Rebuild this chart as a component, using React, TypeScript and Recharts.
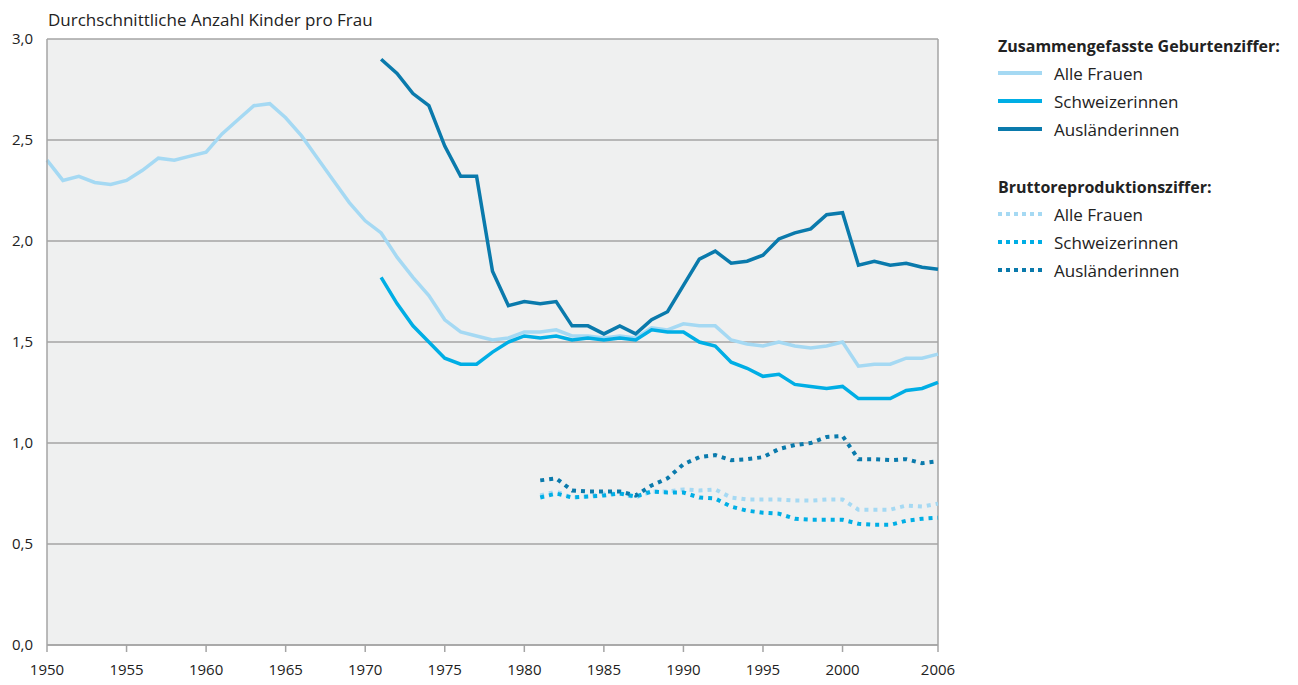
import { LineChart, Line, XAxis, YAxis, CartesianGrid, ReferenceLine } from 'recharts'

const years = Array.from({ length: 57 }, (_, i) => 1950 + i)
const xTicks = [1950, 1955, 1960, 1965, 1970, 1975, 1980, 1985, 1990, 1995, 2000, 2006]
const yTicks = [0, 0.5, 1, 1.5, 2, 2.5, 3]

// Zusammengefasste Geburtenziffer
const tfrAlle = [
    2.40, 2.30, 2.32, 2.29, 2.28, 2.30, 2.35, 2.41, 2.40, 2.42,
    2.44, 2.53, 2.60, 2.67, 2.68, 2.61, 2.52, 2.41, 2.30, 2.19,
    2.10, 2.04, 1.92, 1.82, 1.73, 1.61, 1.55, 1.53, 1.51, 1.52,
    1.55, 1.55, 1.56, 1.53, 1.53, 1.52, 1.53, 1.52, 1.57, 1.56,
    1.59, 1.58, 1.58, 1.51, 1.49, 1.48, 1.50, 1.48, 1.47, 1.48,
    1.50, 1.38, 1.39, 1.39, 1.42, 1.42, 1.44,
]
// from 1971
const tfrSchweiz = [
    1.82, 1.69, 1.58, 1.50, 1.42, 1.39, 1.39, 1.45, 1.50,
    1.53, 1.52, 1.53, 1.51, 1.52, 1.51, 1.52, 1.51, 1.56, 1.55,
    1.55, 1.50, 1.48, 1.40, 1.37, 1.33, 1.34, 1.29, 1.28, 1.27,
    1.28, 1.22, 1.22, 1.22, 1.26, 1.27, 1.30,
]
// from 1971
const tfrAusl = [
    2.90, 2.83, 2.73, 2.67, 2.47, 2.32, 2.32, 1.85, 1.68,
    1.70, 1.69, 1.70, 1.58, 1.58, 1.54, 1.58, 1.54, 1.61, 1.65,
    1.78, 1.91, 1.95, 1.89, 1.90, 1.93, 2.01, 2.04, 2.06, 2.13,
    2.14, 1.88, 1.90, 1.88, 1.89, 1.87, 1.86,
]
// Bruttoreproduktionsziffer, from 1981
const brzAlle = [
    0.74, 0.76, 0.73, 0.735, 0.75, 0.75, 0.73, 0.76, 0.76,
    0.77, 0.765, 0.77, 0.73, 0.72, 0.72, 0.72, 0.715, 0.715, 0.72,
    0.72, 0.67, 0.67, 0.67, 0.69, 0.685, 0.70,
]
const brzSchweiz = [
    0.73, 0.75, 0.73, 0.735, 0.74, 0.75, 0.735, 0.76, 0.755,
    0.755, 0.73, 0.725, 0.685, 0.665, 0.655, 0.65, 0.625, 0.62, 0.62,
    0.62, 0.60, 0.595, 0.595, 0.615, 0.625, 0.63,
]
const brzAusl = [
    0.815, 0.825, 0.765, 0.76, 0.76, 0.76, 0.74, 0.79, 0.825,
    0.895, 0.93, 0.94, 0.915, 0.92, 0.93, 0.97, 0.99, 1.00, 1.03,
    1.035, 0.92, 0.92, 0.915, 0.92, 0.90, 0.91,
]

const LIGHT = '#a5d9f3'
const MID = '#00aee5'
const DARK = '#0a7aac'
const FONT = '"Open Sans", sans-serif'

const pick = (arr: number[], start: number, y: number) =>
    y >= start && y - start < arr.length ? arr[y - start] : null

const data = years.map((y) => ({
    year: y,
    tfrAlle: pick(tfrAlle, 1950, y),
    tfrSchweiz: pick(tfrSchweiz, 1971, y),
    tfrAusl: pick(tfrAusl, 1971, y),
    brzAlle: pick(brzAlle, 1981, y),
    brzSchweiz: pick(brzSchweiz, 1981, y),
    brzAusl: pick(brzAusl, 1981, y),
}))

const fmt = (v: number) => v.toFixed(1).replace('.', ',')

function LegendItem({ color, label, dotted }: { color: string; label: string; dotted?: boolean }) {
    return (
        <div style={{ display: 'flex', alignItems: 'center', height: 28 }}>
            <svg width={46} height={8} style={{ marginRight: 10 }}>
                <line x1={0} y1={4} x2={44} y2={4} stroke={color} strokeWidth={4}
                    strokeDasharray={dotted ? '4 4' : undefined} />
            </svg>
            <span>{label}</span>
        </div>
    )
}

const titleStyle = { fontWeight: 700, fontSize: 16, height: 26, lineHeight: '26px' }

export default function App() {
    return (
        <div style={{ position: 'relative', width: 1290, height: 670, fontFamily: FONT }}>
            <div style={{ position: 'absolute', left: 40, top: 0, fontSize: 17, color: '#222' }}>
                Durchschnittliche Anzahl Kinder pro Frau
            </div>
            <LineChart width={950} height={670} data={data}
                margin={{ top: 31, right: 20, left: 0, bottom: 0 }}>
                <CartesianGrid vertical={false} fill="#eff0f0" stroke="#a4a4a4" strokeWidth={1.5} />
                <XAxis dataKey="year" type="number" domain={[1950, 2006]} ticks={xTicks}
                    height={33} tickSize={7} tickMargin={12} stroke="#a4a4a4" strokeWidth={1.5}
                    tick={{ fill: '#222', fontSize: 15, fontFamily: FONT }} />
                <YAxis domain={[0, 3]} ticks={yTicks} tickFormatter={fmt} width={39}
                    tickLine={false} tickMargin={8} stroke="#a4a4a4" strokeWidth={1.5}
                    tick={{ fill: '#222', fontSize: 15, fontFamily: FONT }} />
                <ReferenceLine x={2006} stroke="#a4a4a4" strokeWidth={1.5} />
                <Line dataKey="tfrAlle" stroke={LIGHT} strokeWidth={3.5} dot={false} isAnimationActive={false} />
                <Line dataKey="tfrSchweiz" stroke={MID} strokeWidth={3.5} dot={false} isAnimationActive={false} />
                <Line dataKey="tfrAusl" stroke={DARK} strokeWidth={3.5} dot={false} isAnimationActive={false} />
                <Line dataKey="brzAlle" stroke={LIGHT} strokeWidth={4} strokeDasharray="4 5" dot={false} isAnimationActive={false} />
                <Line dataKey="brzSchweiz" stroke={MID} strokeWidth={4} strokeDasharray="4 5" dot={false} isAnimationActive={false} />
                <Line dataKey="brzAusl" stroke={DARK} strokeWidth={4} strokeDasharray="4 5" dot={false} isAnimationActive={false} />
            </LineChart>
            <div style={{ position: 'absolute', left: 990, top: 25, fontSize: 17, color: '#222' }}>
                <div style={titleStyle}>Zusammengefasste Geburtenziffer:</div>
                <LegendItem color={LIGHT} label="Alle Frauen" />
                <LegendItem color={MID} label="Schweizerinnen" />
                <LegendItem color={DARK} label="Ausländerinnen" />
                <div style={{ height: 31 }} />
                <div style={titleStyle}>Bruttoreproduktionsziffer:</div>
                <LegendItem color={LIGHT} label="Alle Frauen" dotted />
                <LegendItem color={MID} label="Schweizerinnen" dotted />
                <LegendItem color={DARK} label="Ausländerinnen" dotted />
            </div>
        </div>
    )
}
